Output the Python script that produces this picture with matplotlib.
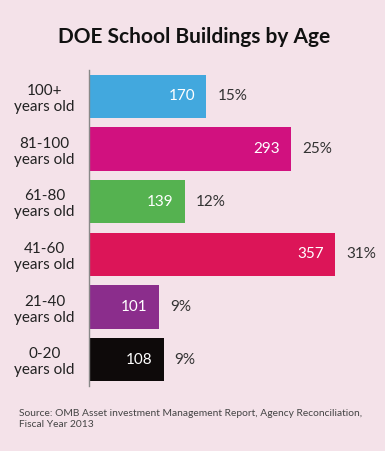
import matplotlib
matplotlib.use("Agg")
import matplotlib.pyplot as plt

categories = ["100+\nyears old", "81-100\nyears old", "61-80\nyears old",
              "41-60\nyears old", "21-40\nyears old", "0-20\nyears old"]
counts = [170, 293, 139, 357, 101, 108]
percents = ["15%", "25%", "12%", "31%", "9%", "9%"]
colors = ["#42A8DE", "#D1117F", "#55B250", "#DC1558", "#8B2D8C", "#0E0A0A"]

title = "DOE School Buildings by Age"
source = "Source: OMB Asset investment Management Report, Agency Reconciliation,\nFiscal Year 2013"

bg = "#F4E2E9"
plt.rcParams['font.family'] = ['Lato', 'DejaVu Sans']

fig = plt.figure(figsize=(3.85, 4.51), dpi=100, facecolor=bg)
ax = fig.add_axes([89/385, 1-386/451, 276/385, 316/451])
ax.set_facecolor(bg)

ypos = list(range(len(categories)))
bars = ax.barh(ypos, counts, height=0.82, color=colors)
ax.set_xlim(0, 400)
ax.set_ylim(5.5, -0.5)

for y, c, p in zip(ypos, counts, percents):
    ax.annotate(str(c), (c, y), xytext=(-8, 0), textcoords="offset points",
                ha="right", va="center", color="white", fontsize=11)
    ax.annotate(p, (c, y), xytext=(8, 0), textcoords="offset points",
                ha="left", va="center", color="#333333", fontsize=11)

ax.set_yticks(ypos)
ax.set_yticklabels(categories, fontsize=11, color="#222222", ha="center",
                   linespacing=1.2)
ax.tick_params(axis="y", length=0, pad=32)
ax.set_xticks([])
for s in ["top", "right", "bottom"]:
    ax.spines[s].set_visible(False)
ax.spines["left"].set_color("#888888")
ax.spines["left"].set_linewidth(1.0)

fig.text(194/385, 1-37/451, title, ha="center", va="center",
         fontsize=15, fontweight="bold", color="#111111")
fig.text(19/385, 1-419/451, source, ha="left", va="center",
         fontsize=7.4, color="#444444", linespacing=1.3)

fig.savefig("out.png", dpi=100, facecolor=bg)
